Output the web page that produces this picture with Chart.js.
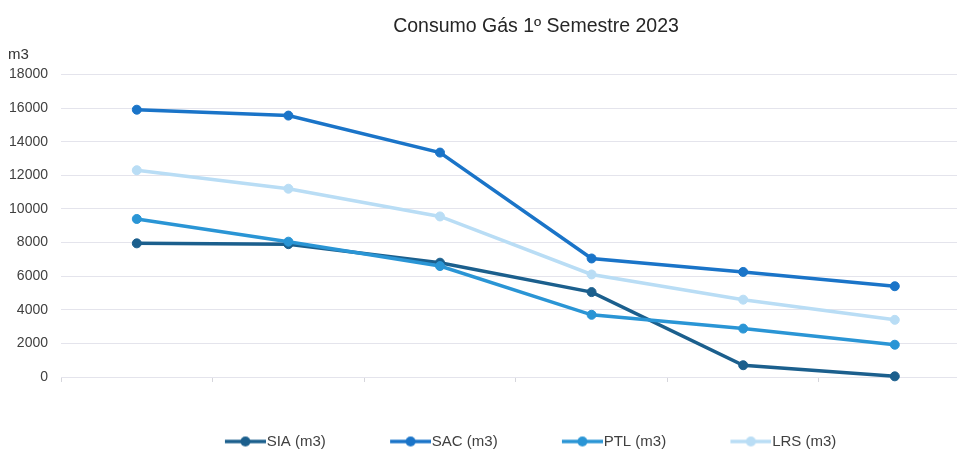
<!DOCTYPE html>
<html>
<head>
<meta charset="utf-8">
<script src="https://cdn.jsdelivr.net/npm/chart.js@4"></script>
<style>
  html, body { margin: 0; padding: 0; background: #fff; overflow: hidden; }
  .wrap { position: relative; width: 1064px; height: 453px; }
</style>
</head>
<body>
<div class="wrap"><canvas id="gasChart" width="1064" height="453"></canvas></div>
<script>
  // ── DADOS ──
  const meses = ['Jan', 'Fev', 'Mar', 'Abr', 'Mai', 'Jun'];
  const sia = [7950, 7900, 6800, 5050, 700, 40];
  const sac = [15900, 15550, 13350, 7050, 6250, 5400];
  const ptl = [9400, 8050, 6600, 3700, 2880, 1920];
  const lrs = [12300, 11200, 9550, 6100, 4600, 3400];
  const yTicks = [0, 2000, 4000, 6000, 8000, 10000, 12000, 14000, 16000, 18000];

  const FONT = "'Liberation Sans', Arial, sans-serif";
  const cores = ['#1b5f8d', '#1a74c8', '#2a95d5', '#b9ddf5'];

  // icone da legenda: linha com bolinha
  function legendIcon(color) {
    const c = document.createElement('canvas');
    c.width = 55; c.height = 12;
    const g = c.getContext('2d');
    g.strokeStyle = color;
    g.lineWidth = 3.5;
    g.beginPath(); g.moveTo(14, 6); g.lineTo(55, 6); g.stroke();
    g.fillStyle = color;
    g.beginPath(); g.arc(34.5, 6, 5, 0, Math.PI * 2); g.fill();
    return c;
  }
  const icons = cores.map(legendIcon);

  function serie(label, values, i) {
    return {
      label,
      data: values.map((v, k) => ({ x: k, y: v })),
      borderColor: cores[i],
      backgroundColor: cores[i],
      pointBackgroundColor: cores[i],
      pointBorderColor: cores[i],
      borderWidth: 3.5,
      pointRadius: 4.5,
      pointBorderWidth: 1,
      pointHoverRadius: 6,
      tension: 0,
      clip: false,
      order: 4 - i
    };
  }

  // legenda: altura fixa e um pouco mais a esquerda
  const legendBox = {
    id: 'legendBox',
    beforeInit(chart) {
      const fit = chart.legend.fit;
      chart.legend.fit = function () {
        fit.call(this);
        this.height = 76;
      };
    },
    afterLayout(chart) {
      chart.legend.left -= 9;
      chart.legend.right -= 9;
    }
  };

  const ctx = document.getElementById('gasChart').getContext('2d');
  new Chart(ctx, {
    type: 'line',
    data: {
      datasets: [
        serie('SIA (m3)', sia, 0),
        serie('SAC (m3)', sac, 1),
        serie('PTL (m3)', ptl, 2),
        serie('LRS (m3)', lrs, 3)
      ]
    },
    plugins: [legendBox],
    options: {
      responsive: false,
      animation: false,
      devicePixelRatio: 1,
      layout: { padding: { left: 8, right: 0, top: 0, bottom: 0 } },
      plugins: {
        title: {
          display: true,
          text: 'Consumo Gás 1º Semestre 2023',
          color: '#262626',
          font: { family: FONT, size: 19.5, weight: 'normal' },
          padding: { top: 15, bottom: 3 }
        },
        subtitle: {
          display: true,
          text: 'm3',
          align: 'start',
          color: '#333',
          font: { family: FONT, size: 15 },
          padding: { top: 4, bottom: 11 }
        },
        legend: {
          position: 'bottom',
          labels: {
            usePointStyle: true,
            pointStyleWidth: 41.5,
            padding: 57,
            color: '#404040',
            font: { family: FONT, size: 15 },
            sort: (a, b) => a.datasetIndex - b.datasetIndex,
            generateLabels(chart) {
              const items = Chart.defaults.plugins.legend.labels.generateLabels(chart);
              items.forEach(it => { it.pointStyle = icons[it.datasetIndex]; });
              return items;
            }
          }
        },
        tooltip: {
          callbacks: { title: items => meses[items[0].parsed.x] }
        }
      },
      scales: {
        x: {
          type: 'linear',
          min: -0.5,
          max: 6.07,
          afterBuildTicks: s => { s.ticks = [{ value: -0.5 }].concat(meses.map((m, i) => ({ value: i + 0.5 }))); },
          afterFit: s => { s.height = 0; },
          ticks: { display: false },
          grid: { drawOnChartArea: false, drawTicks: true, tickLength: 5, color: '#d6d6dc' },
          border: { display: false }
        },
        y: {
          min: 0,
          max: 18000,
          afterBuildTicks: s => { s.ticks = yTicks.map(v => ({ value: v })); },
          afterFit: s => { s.width = 53; },
          ticks: {
            color: '#404040',
            padding: 13,
            font: { family: FONT, size: 14 },
            callback: v => String(v)
          },
          grid: { color: '#e4e4ec', lineWidth: 1, drawTicks: false },
          border: { display: false }
        }
      }
    }
  });
</script>
</body>
</html>
